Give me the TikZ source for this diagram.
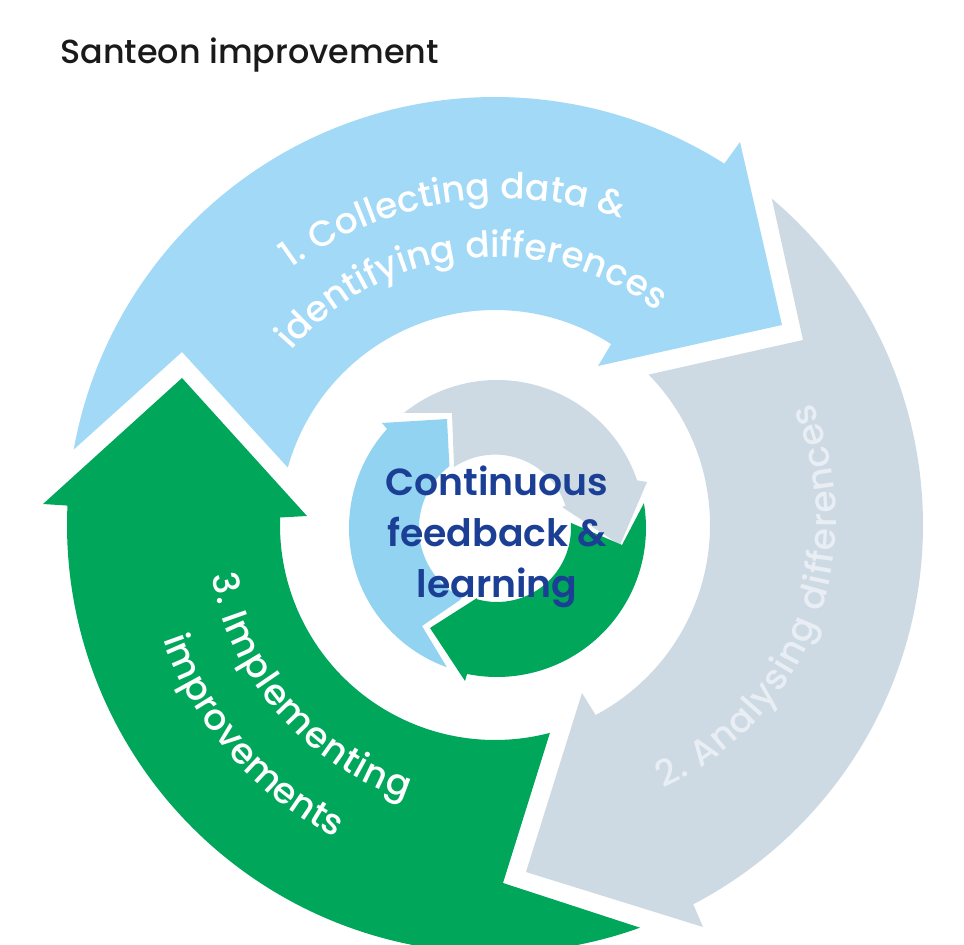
\documentclass[tikz,border=0pt]{standalone}
\usepackage{fontspec}
\usetikzlibrary{calc,decorations.text}
\newfontfamily\popm{Poppins Medium}
\newfontfamily\pops{Poppins SemiBold}
\definecolor{bluea}{HTML}{A2D9F7}
\definecolor{greya}{HTML}{CDDAE4}
\definecolor{greena}{HTML}{00A65A}
\definecolor{blueb}{HTML}{93D3F2}
\definecolor{navy}{HTML}{1B3F94}
\definecolor{ink}{HTML}{1A1A1A}
\definecolor{greytext}{HTML}{E8EEF3}
\tikzset{
  curved label/.style n args={3}{decorate,decoration={text along path,
     text={|\fontsize{#2}{#2}\popm\color{#3}|#1},text align={fit to path}}},
}
\begin{document}
\begin{tikzpicture}[x=0.02cm,y=-0.02cm]
\useasboundingbox (0,0) rectangle (964,945);
\coordinate (C) at (495,525);
\coordinate (D) at (497,528);
\coordinate (G) at (540,519);
\coordinate (B) at (504,562);
\begin{scope}
\clip (0,0) rectangle (964,945);
% outer blue
\fill[bluea] ($(C)+(-169.85:428)$) arc[start angle=-169.85,end angle=-57.6,radius=428]
  -- (740,142) -- (782,325) -- (598,366)
  -- ($(C)+(-57.3:215)$) arc[start angle=-57.3,end angle=-164.5,radius=215]
  -- (182,352) -- cycle;
% outer grey
\fill[greya] ($(C)+(-49.7:428)$) arc[start angle=-49.7,end angle=62.4,radius=428]
  -- (703,927) -- (526,872) -- (582,693)
  -- ($(C)+(62.1:215)$) arc[start angle=62.1,end angle=-44.4,radius=215]
  -- (803,340) -- cycle;
% outer green
\fill[greena] ($(C)+(70.2:428)$) arc[start angle=70.2,end angle=182.6,radius=428]
  -- (43,504) -- (182,378) -- (307,516)
  -- ($(C)+(182:215)$) arc[start angle=182,end angle=75.2,radius=215]
  -- (503,883) -- cycle;
\end{scope}
% inner grey
\fill[greya] ($(D)+(-129:148)$) arc[start angle=-129,end angle=-18.8,radius=148]
  -- (647,482) -- (620,545) -- (562,507)
  -- ($(D)+(-18:72)$) arc[start angle=-18,end angle=-123.7,radius=74]
  -- (452,413) -- cycle;
% inner blue
\fill[blueb] ($(D)+(-138:148)$) arc[start angle=-138,end angle=-250.2,radius=148]
  -- (422,626) -- (460,600)
  -- ($(D)+(-243:78)$) arc[start angle=-243,end angle=-127.6,radius=78]
  -- (447,419) -- (382,423) -- cycle;
% inner green
\fill[greena] ($(D)+(-9.6:149)$) arc[start angle=-9.6,end angle=101.6,radius=149]
  -- (465,681) -- (430,628) -- (477,598)
  -- ($(D)+(106:74)$) arc[start angle=106,end angle=-4,radius=74]
  -- (622,545) -- cycle;
% curved labels
\path[curved label={1. Collecting data {\&}}{20.5pt}{white}]
  ($(B)+(-126:363)$) arc[start angle=-126,end angle=-72.2,radius=363];
\path[curved label={identifying differences}{20.5pt}{white}]
  ($(C)+(-139.4:268)$) arc[start angle=-139.4,end angle=-53.2,radius=268];
\path[curved label={2. Analysing differences}{20.5pt}{greytext}]
  ($(G)+(65.4:296)$) arc[start angle=65.4,end angle=-23.1,radius=296];
\path[curved label={3. Implementing}{20.5pt}{white}]
  ($(C)+(170:288)$) arc[start angle=170,end angle=108,radius=288];
\path[curved label={improvements}{20.5pt}{white}]
  ($(C)+(161:351)$) arc[start angle=161,end angle=117,radius=351];
% texts
\node[anchor=base west,inner sep=0pt,text=ink,font=\fontsize{19pt}{19pt}\popm] (title) at (60,64) {Santeon improvement};
\node[inner sep=0pt,align=center,text=navy,font=\fontsize{21.5pt}{29pt}\pops] (centre) at (497,537) {Continuous\\feedback \&\\learning};
\end{tikzpicture}
\end{document}
